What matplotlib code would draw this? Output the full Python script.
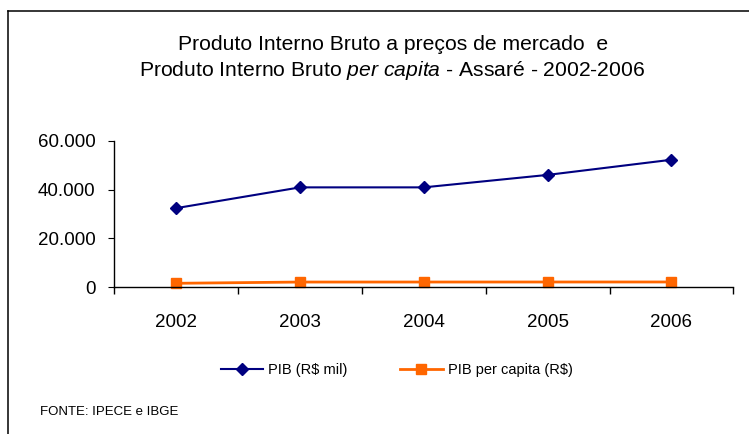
import matplotlib
matplotlib.use("Agg")
import matplotlib.pyplot as plt
from matplotlib.lines import Line2D
from matplotlib.ticker import FuncFormatter

years = ["2002", "2003", "2004", "2005", "2006"]
pib_mil = [32400, 40900, 40900, 46000, 52200]
pib_per_capita = [1640, 2150, 2160, 2170, 2180]
yticks = [0, 20000, 40000, 60000]

plt.rcParams["mathtext.fontset"] = "custom"
plt.rcParams["mathtext.rm"] = "Liberation Sans"
plt.rcParams["mathtext.it"] = "Liberation Sans:italic"

W, H = 749, 434
fig = plt.figure(figsize=(W / 100, H / 100), dpi=100)
fam = ["Liberation Sans", "DejaVu Sans"]

# border
fig.add_artist(Line2D([8 / W, 1], [1 - 11 / H, 1 - 11 / H], transform=fig.transFigure, color="black", lw=1.1))
fig.add_artist(Line2D([8 / W, 8 / W], [1 - 11 / H, 0], transform=fig.transFigure, color="black", lw=1.1))

ax = fig.add_axes([114.3 / W, 1 - 287.3 / H, (733.3 - 114.3) / W, (287.3 - 140.7) / H])
x = list(range(len(years)))
ax.plot(x, pib_mil, color="#000080", marker="D", markersize=6.2, lw=1.5, label="PIB (R$ mil)", clip_on=False)
ax.plot(x, pib_per_capita, color="#FF6600", marker="s", markersize=6.5, lw=2, label="PIB per capita (R$)", clip_on=False)

ax.set_xlim(-0.5, len(years) - 0.5)
ax.set_ylim(0, 60000)
ax.set_yticks(yticks)
ax.yaxis.set_major_formatter(FuncFormatter(lambda v, p: f"{int(v):,}".replace(",", ".")))
ax.set_xticks(x)
ax.set_xticklabels(years)
ax.set_xticks([i - 0.5 for i in range(len(years) + 1)], minor=True)
ax.tick_params(axis="x", which="major", length=0, pad=19, labelsize=13.5)
ax.tick_params(axis="x", which="minor", length=5, direction="out", width=1)
ax.tick_params(axis="y", length=4.5, direction="out", labelsize=13.5, pad=9)
for lab in ax.get_xticklabels() + ax.get_yticklabels():
    lab.set_family(fam)
for s in ["top", "right"]:
    ax.spines[s].set_visible(False)
ax.spines["left"].set_linewidth(1)
ax.spines["bottom"].set_linewidth(1)

fig.text(393 / W, 1 - 44 / H, "Produto Interno Bruto a preços de mercado  e", ha="center", va="center",
         fontsize=15.2, family=fam)
fig.text(392 / W, 1 - 71 / H,
         "Produto Interno Bruto $\\mathit{per\\ capita}$ - Assaré - 2002-2006", ha="center", va="center",
         fontsize=15.2, family=fam)

leg = fig.legend(loc="center left", bbox_to_anchor=(221 / W, 1 - 370 / H), ncol=2, frameon=False,
                 prop={"family": fam, "size": 10.5}, borderpad=0, borderaxespad=0,
                 handlelength=2.9, columnspacing=3.6, handletextpad=0.35)

fig.text(40 / W, 1 - 412 / H, "FONTE: IPECE e IBGE", ha="left", va="center", fontsize=9.5, family=fam)

fig.savefig("out.png", dpi=100)
